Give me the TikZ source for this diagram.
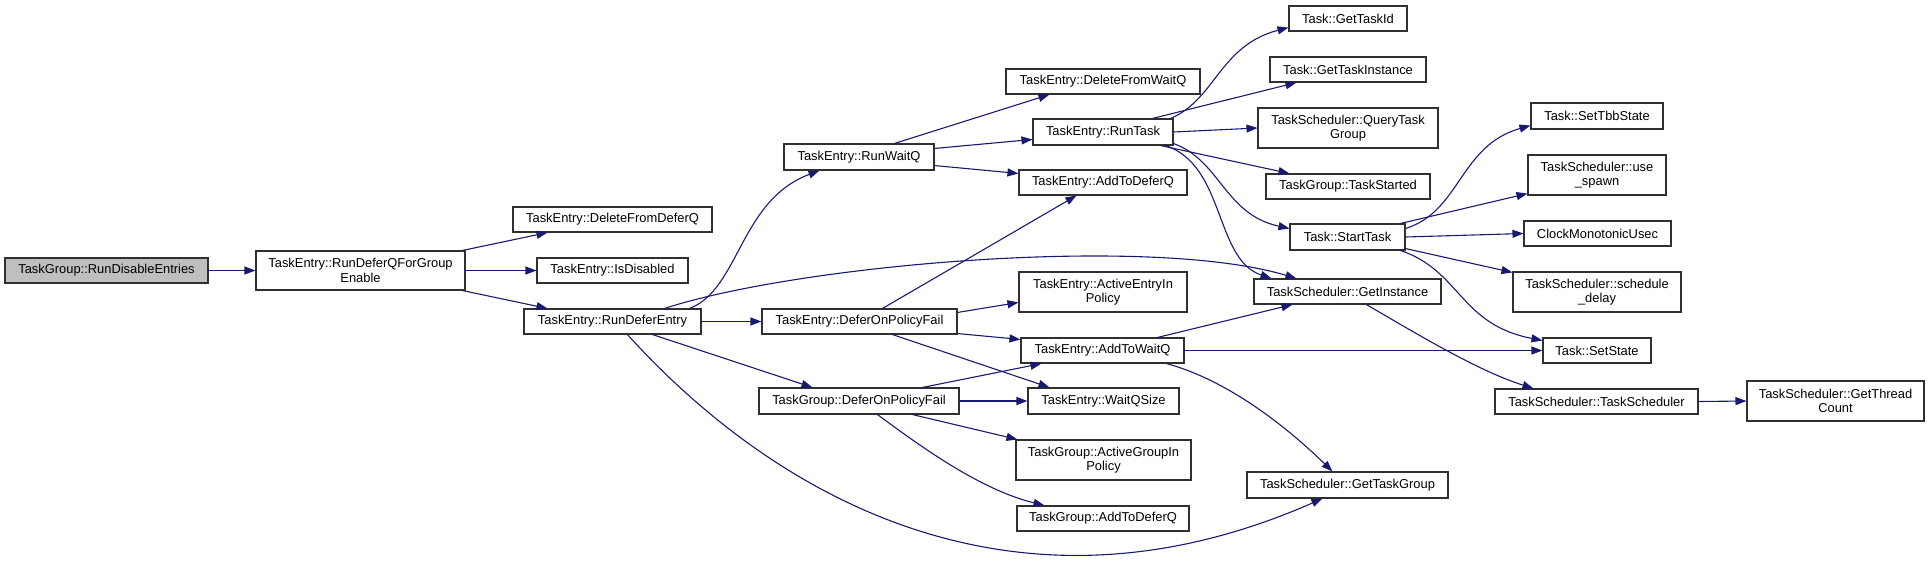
\documentclass[tikz,border=0pt]{standalone}
\usepackage{fontspec}
\setmainfont{Liberation Sans}
\usetikzlibrary{arrows.meta,calc}
\definecolor{edgeblue}{HTML}{191970}
\definecolor{rootfill}{HTML}{BFBFBF}
\definecolor{bordergray}{HTML}{303030}
\begin{document}
\begin{tikzpicture}[x=1pt,y=-1pt,
  nd/.style={draw=bordergray,line width=1.1pt,fill=white,inner sep=0pt,align=center,
    font=\fontsize{12.9}{14.3}\selectfont},
  rootnd/.style={nd,fill=rootfill},
  edge/.style={draw=edgeblue,line width=1.1pt,-{Triangle[length=11pt,width=8pt]}}]
\useasboundingbox (0,0) rectangle (1929,563);
% column 1
\node[rootnd,minimum width=203pt,minimum height=25pt] (rde) at (106.5,270.5) {TaskGroup::RunDisableEntries};
% column 2
\node[nd,minimum width=209pt,minimum height=39pt] (rdq) at (360.5,270.5) {TaskEntry::RunDeferQForGroup\\Enable};
% column 3
\node[nd,minimum width=199pt,minimum height=25pt] (dfd) at (612.5,219.5) {TaskEntry::DeleteFromDeferQ};
\node[nd,minimum width=151pt,minimum height=25pt] (isd) at (612.5,270.5) {TaskEntry::IsDisabled};
\node[nd,minimum width=177pt,minimum height=25pt] (rdf) at (612.5,321.5) {TaskEntry::RunDeferEntry};
% column 4
\node[nd,minimum width=150pt,minimum height=26pt] (rwq) at (859,157) {TaskEntry::RunWaitQ};
\node[nd,minimum width=195pt,minimum height=25pt] (tedp) at (859.5,321.5) {TaskEntry::DeferOnPolicyFail};
\node[nd,minimum width=200pt,minimum height=26pt] (tgdp) at (859,401) {TaskGroup::DeferOnPolicyFail};
% column 5
\node[nd,minimum width=194pt,minimum height=25pt] (dfw) at (1103,81.5) {TaskEntry::DeleteFromWaitQ};
\node[nd,minimum width=140pt,minimum height=26pt] (rt) at (1103,132) {TaskEntry::RunTask};
\node[nd,minimum width=168pt,minimum height=25pt] (adq) at (1103,182.5) {TaskEntry::AddToDeferQ};
\node[nd,minimum width=168pt,minimum height=40pt] (aep) at (1103,292) {TaskEntry::ActiveEntryIn\\Policy};
\node[nd,minimum width=163pt,minimum height=25pt] (awq) at (1102.5,350.5) {TaskEntry::AddToWaitQ};
\node[nd,minimum width=151pt,minimum height=26pt] (wqs) at (1103.5,401) {TaskEntry::WaitQSize};
\node[nd,minimum width=175pt,minimum height=40pt] (agp) at (1103.5,460) {TaskGroup::ActiveGroupIn\\Policy};
\node[nd,minimum width=172pt,minimum height=25pt] (tgadq) at (1103,518.5) {TaskGroup::AddToDeferQ};
% column 6
\node[nd,minimum width=118pt,minimum height=25pt] (gti) at (1348,18.5) {Task::GetTaskId};
\node[nd,minimum width=156pt,minimum height=25pt] (gtinst) at (1348,69.5) {Task::GetTaskInstance};
\node[nd,minimum width=180pt,minimum height=40pt] (qtg) at (1348,128) {TaskScheduler::QueryTask\\Group};
\node[nd,minimum width=164pt,minimum height=25pt] (tst) at (1348,186.5) {TaskGroup::TaskStarted};
\node[nd,minimum width=115pt,minimum height=26pt] (st) at (1347.5,237) {Task::StartTask};
\node[nd,minimum width=187pt,minimum height=25pt] (gi) at (1347.5,291.5) {TaskScheduler::GetInstance};
\node[nd,minimum width=201pt,minimum height=26pt] (gtg) at (1347.5,485) {TaskScheduler::GetTaskGroup};
% column 7
\node[nd,minimum width=132pt,minimum height=26pt] (stbb) at (1597,116) {Task::SetTbbState};
\node[nd,minimum width=138pt,minimum height=40pt] (usp) at (1597,175) {TaskScheduler::use\\\_spawn};
\node[nd,minimum width=147pt,minimum height=25pt] (cmu) at (1597.5,233.5) {ClockMonotonicUsec};
\node[nd,minimum width=168pt,minimum height=40pt] (sdl) at (1597,292) {TaskScheduler::schedule\\\_delay};
\node[nd,minimum width=108pt,minimum height=25pt] (sst) at (1597,350.5) {Task::SetState};
\node[nd,minimum width=203pt,minimum height=25pt] (tsts) at (1596.5,401.5) {TaskScheduler::TaskScheduler};
% column 8
\node[nd,minimum width=177pt,minimum height=40pt] (gtc) at (1835.5,401) {TaskScheduler::GetThread\\Count};

% edges
\draw[edge] (rde.east) -- (rdq.west);
\draw[edge] ($(rdq.north east)+(-3,0)$) -- ($(dfd.south west)+(35,0)$);
\draw[edge] (rdq.east) -- (isd.west);
\draw[edge] ($(rdq.south east)+(-3,0)$) -- ($(rdf.north west)+(24,0)$);
\draw[edge] ($(rdf.north west)+(166,0)$) .. controls +(50,-19) and +(-80,30) .. ($(rwq.south west)+(36,0)$);
\draw[edge] ($(rdf.north west)+(141,0)$) .. controls +(135,-44) and +(-147,-44) .. ($(gi.north west)+(43,0)$);
\draw[edge] (rdf.east) -- (tedp.west);
\draw[edge] ($(rdf.south west)+(129,0)$) -- ($(tgdp.north west)+(54,0)$);
\draw[edge] ($(rdf.south west)+(104,0)$) .. controls +(132,146) and +(-323,142) .. ($(gtg.south west)+(76,0)$);
\draw[edge] ($(rwq.north west)+(111,0)$) -- ($(dfw.south west)+(44,0)$);
\draw[edge] ($(rwq.north east)+(0,5)$) -- ($(rt.north west)+(0,21)$);
\draw[edge] ($(rwq.south east)+(0,-5)$) -- ($(adq.north west)+(0,4)$);
\draw[edge] ($(rt.north east)+(-3,0)$) .. controls +(45,-19) and +(-69,18) .. ($(gti.south west)+(0,-4)$);
\draw[edge] ($(rt.north west)+(120,0)$) -- ($(gtinst.south west)+(27,0)$);
\draw[edge] (rt.east) -- (qtg.west);
\draw[edge] ($(rt.south east)+(-13,0)$) -- ($(tst.north west)+(24,0)$);
\draw[edge] ($(rt.south east)+(0,-2)$) .. controls +(47,17) and +(-65,-14) .. ($(st.north west)+(0,5)$);
\draw[edge] ($(rt.south east)+(-8,0)$) .. controls +(60,20) and +(-57,-19) .. ($(gi.north west)+(18,0)$);
\draw[edge] ($(tedp.north west)+(121,0)$) -- ($(adq.south west)+(58,0)$);
\draw[edge] ($(tedp.north east)+(0,4)$) -- ($(aep.north west)+(0,31)$);
\draw[edge] ($(tedp.south east)+(0,-1)$) -- ($(awq.north west)+(0,2)$);
\draw[edge] ($(tedp.south west)+(131,0)$) -- ($(wqs.north west)+(22,0)$);
\draw[edge] ($(tgdp.north west)+(164,0)$) -- ($(awq.south west)+(21,0)$);
\draw[edge] (tgdp.east) -- (wqs.west);
\draw[edge] ($(tgdp.south west)+(154,0)$) -- ($(agp.north west)+(2,0)$);
\draw[edge] ($(tgdp.south west)+(119,0)$) .. controls +(42,31) and +(-65,-16) .. ($(tgadq.north west)+(28,0)$);
\draw[edge] ($(awq.north west)+(137,0)$) -- ($(gi.south west)+(39,0)$);
\draw[edge] (awq.east) -- (sst.west);
\draw[edge] ($(awq.south west)+(146,0)$) .. controls +(63,17) and +(-43,-42) .. ($(gtg.north west)+(86,0)$);
\draw[edge] ($(st.north east)+(0,5)$) .. controls +(55,-17) and +(-71,20) .. ($(stbb.south west)+(0,-4)$);
\draw[edge] ($(st.north east)+(-5,0)$) -- ($(usp.south west)+(0,-2)$);
\draw[edge] (st.east) -- (cmu.west);
\draw[edge] ($(st.south east)+(0,-2)$) -- ($(sdl.north west)+(0,1)$);
\draw[edge] ($(st.south east)+(-5,0)$) .. controls +(60,20) and +(-83,-16) .. ($(sst.north west)+(0,3)$);
\draw[edge] ($(gi.south west)+(113,0)$) .. controls +(53,31) and +(-54,-17) .. ($(tsts.north west)+(39,0)$);
\draw[edge] (tsts.east) -- (gtc.west);
\end{tikzpicture}
\end{document}
